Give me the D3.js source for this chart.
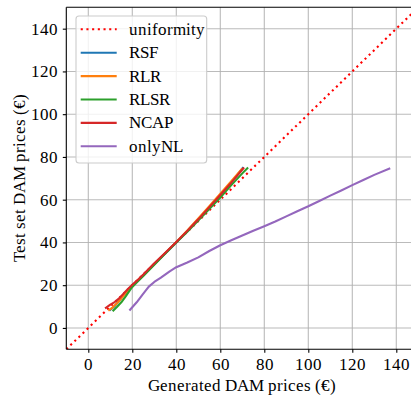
<!DOCTYPE html>
<html>
<head>
<meta charset="utf-8">
<script src="https://cdn.jsdelivr.net/npm/d3@7"></script>
<style>
  @font-face {
    font-family: "ChartSerif";
    src: local("Liberation Serif"), local("LiberationSerif"), local("LiberationSerif-Regular"),
         local("Times New Roman"), local("DejaVu Serif"), local("DejaVuSerif"), local("Noto Serif"), local("NotoSerif-Regular");
  }
  html, body { margin: 0; padding: 0; background: #fff; overflow: hidden; }
  svg { display: block; }
</style>
</head>
<body>
<div id="chart"></div>
<script>
// Quantile pairs: generated price (x) vs test-set price (y), in €
const uniformityRange = [-10, 150];

const rsfX = [10, 12, 15, 20, 25, 30, 35, 40, 45, 50, 55, 60, 65, 70.2];
const rsfY = [8.5, 10.2, 14, 19.7, 24.7, 29.8, 34.8, 40, 45.3, 50.8, 56.3, 62, 68, 74.8];

const rlrX = [9.5, 11, 13, 15, 18, 20, 25, 30, 35, 40, 45, 50, 55, 60, 65, 69.7];
const rlrY = [8.4, 9.5, 11.5, 13.8, 17.5, 19.8, 24.8, 29.9, 35, 40.2, 45.6, 51.2, 57, 62.8, 68.6, 74.2];

const rlsrX = [11.4, 13, 15, 17, 19, 20, 22, 25, 30, 35, 40, 45, 50, 55, 60, 65, 70, 72.3];
const rlsrY = [8.2, 9.8, 12, 14.8, 17.8, 19.2, 21.2, 24.3, 29.6, 34.8, 40, 45, 50.3, 55.6, 61, 66.8, 72.3, 74.7];

const ncapX = [8, 10, 12, 14, 16, 18, 20, 22, 25, 30, 35, 40, 45, 50, 55, 60, 65, 70.5];
const ncapY = [9.4, 10.9, 12.1, 13.8, 16, 18.2, 20.2, 22, 25, 30.3, 35.2, 40.2, 45.4, 50.8, 56.5, 62.2, 68, 74.7];

const onlyNLX = [19, 22, 25, 27.5, 30, 33, 37, 40, 45, 50, 55, 60, 65, 70, 75, 80, 85, 90, 95, 100, 105, 110, 115, 120, 125, 130, 136.8];
const onlyNLY = [8.5, 12, 16, 19.3, 21.5, 23.5, 26.5, 28.4, 30.6, 33, 36, 38.7, 41, 43.2, 45.5, 47.6, 49.8, 52.2, 54.6, 56.9, 59.4, 61.9, 64.3, 66.8, 69.2, 71.6, 74.5];

const xTicks = [0, 20, 40, 60, 80, 100, 120, 140];
const yTicks = [0, 20, 40, 60, 80, 100, 120, 140];

const seriesNames = ["RSF", "RLR", "RLSR", "NCAP", "onlyNL"];
const seriesColors = ["#1f77b4", "#ff7f0e", "#2ca02c", "#d62728", "#9467bd"];
const seriesX = [rsfX, rlrX, rlsrX, ncapX, onlyNLX];
const seriesY = [rsfY, rlrY, rlsrY, ncapY, onlyNLY];

const FONT = "ChartSerif, 'Liberation Serif', 'Times New Roman', Times, 'DejaVu Serif', serif";
const FS = "16.7px";

const W = 411, H = 398;
const plot = { left: 66.3, right: 418.3, top: 7.3, bottom: 349.3 };

const svg = d3.select("#chart").append("svg")
  .attr("width", W).attr("height", H);

const x = d3.scaleLinear().domain([-10, 150]).range([plot.left, plot.right]);
const y = d3.scaleLinear().domain([-10, 150]).range([plot.bottom, plot.top]);

svg.append("defs").append("clipPath").attr("id", "plotClip")
  .append("rect")
  .attr("x", plot.left).attr("y", plot.top)
  .attr("width", plot.right - plot.left).attr("height", plot.bottom - plot.top);

// grid
const grid = svg.append("g");
grid.selectAll(".gx").data(xTicks).join("line")
  .attr("x1", d => x(d)).attr("x2", d => x(d))
  .attr("y1", plot.top).attr("y2", plot.bottom)
  .attr("stroke", "#b0b0b0").attr("stroke-width", 1.1).attr("opacity", 0.85);
grid.selectAll(".gy").data(yTicks).join("line")
  .attr("y1", d => y(d)).attr("y2", d => y(d))
  .attr("x1", plot.left).attr("x2", plot.right)
  .attr("stroke", "#b0b0b0").attr("stroke-width", 1.1).attr("opacity", 0.85);

// data lines
const data = svg.append("g").attr("clip-path", "url(#plotClip)");

data.append("path")
  .datum(uniformityRange.map(v => [v, v]))
  .attr("d", d3.line().x(d => x(d[0])).y(d => y(d[1])))
  .attr("fill", "none").attr("stroke", "#ff0000")
  .attr("stroke-width", 2.1).attr("stroke-dasharray", "2.1,3.6");

const line = d3.line().x(d => x(d[0])).y(d => y(d[1]));
seriesNames.forEach((name, i) => {
  const pts = seriesX[i].map((v, j) => [v, seriesY[i][j]]);
  data.append("path").datum(pts)
    .attr("d", line)
    .attr("fill", "none").attr("stroke", seriesColors[i])
    .attr("stroke-width", 2.1).attr("stroke-linejoin", "round")
    .attr("stroke-linecap", "square");
});

// axes
const xAxis = d3.axisBottom(x).tickValues(xTicks).tickSize(3.5).tickPadding(5);
const yAxis = d3.axisLeft(y).tickValues(yTicks).tickSize(3.5).tickPadding(5);

const gx = svg.append("g").attr("transform", `translate(0,${plot.bottom})`).call(xAxis);
const gy = svg.append("g").attr("transform", `translate(${plot.left},0)`).call(yAxis);
[gx, gy].forEach(g => {
  g.attr("font-family", null).attr("font-size", null);
  g.select(".domain").remove();
  g.selectAll(".tick line").attr("stroke", "#000").attr("stroke-width", 1.1);
  g.selectAll(".tick text")
    .style("font-family", FONT).style("font-size", FS).attr("fill", "#000");
});

// spines
svg.append("line").attr("x1", plot.left).attr("x2", plot.left)
  .attr("y1", plot.top).attr("y2", plot.bottom)
  .attr("stroke", "#000").attr("stroke-width", 1.1);
svg.append("line").attr("x1", plot.left).attr("x2", plot.right)
  .attr("y1", plot.bottom).attr("y2", plot.bottom)
  .attr("stroke", "#000").attr("stroke-width", 1.1);
svg.append("line").attr("x1", plot.left).attr("x2", plot.right)
  .attr("y1", plot.top).attr("y2", plot.top)
  .attr("stroke", "#000").attr("stroke-width", 1.1);

// axis labels
svg.append("text")
  .attr("x", (plot.left + plot.right) / 2).attr("y", 391)
  .attr("text-anchor", "middle")
  .style("font-family", FONT).style("font-size", FS)
  .text("Generated DAM prices (€)");
svg.append("text")
  .attr("transform", `translate(25,${(plot.top + plot.bottom) / 2}) rotate(-90)`)
  .attr("text-anchor", "middle")
  .style("font-family", FONT).style("font-size", FS)
  .text("Test set DAM prices (€)");

// legend
const legend = svg.append("g");
legend.append("rect")
  .attr("x", 76).attr("y", 16).attr("width", 130.7).attr("height", 147)
  .attr("rx", 3).attr("ry", 3)
  .attr("fill", "#fff").attr("fill-opacity", 0.8)
  .attr("stroke", "#cccccc").attr("stroke-width", 1.1);

const legendItems = [{ name: "uniformity", color: "#ff0000", dotted: true }]
  .concat(seriesNames.map((n, i) => ({ name: n, color: seriesColors[i], dotted: false })));

legendItems.forEach((it, i) => {
  const ry = 29.3 + i * 23.4;
  legend.append("line")
    .attr("x1", 80.7).attr("x2", 116.7).attr("y1", ry).attr("y2", ry)
    .attr("stroke", it.color).attr("stroke-width", 2.1)
    .attr("stroke-dasharray", it.dotted ? "2.1,3.6" : null);
  legend.append("text")
    .attr("x", 129.3).attr("y", ry).attr("dy", "0.33em")
    .style("font-family", FONT).style("font-size", FS)
    .text(it.name);
});
</script>
</body>
</html>
